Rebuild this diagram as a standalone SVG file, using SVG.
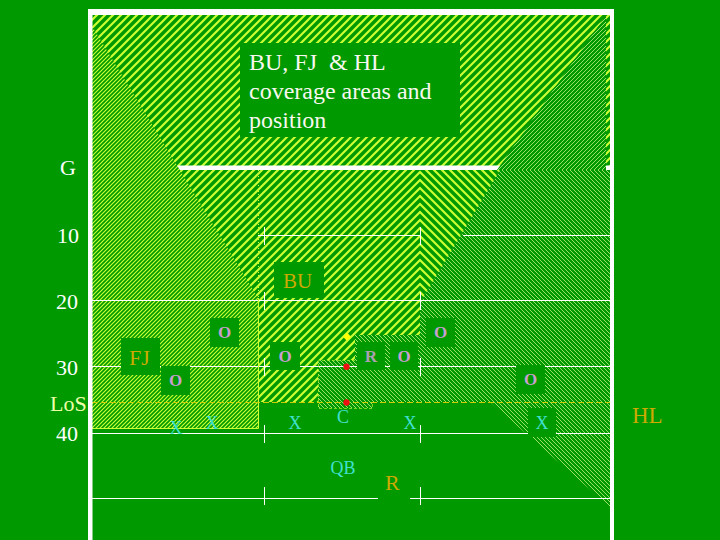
<svg xmlns="http://www.w3.org/2000/svg" width="720" height="540" viewBox="0 0 720 540">
<style>
.t{font-family:"Liberation Serif","Times New Roman",serif}
.yard{font-size:22px;fill:#FFFFFF}
.bx{fill:#009900}
.o{font-size:17px;font-weight:bold;fill:#C8A0D0;text-anchor:middle}
.r{font-size:17px;font-weight:bold;fill:#AAA0B0;text-anchor:middle}
.x{font-size:18px;fill:#40E0D0;text-anchor:middle}
.gold{fill:#CCAA00}
.ln{stroke:#FFFFFF;stroke-width:1;fill:none}
.title{font-size:24px;fill:#F8F8F0;white-space:pre}
</style>
<defs>
<pattern id="wideUp" patternUnits="userSpaceOnUse" width="8" height="8">
<rect width="8" height="8" fill="#009900"/>
<path d="M-4,4 L4,-4 M0,8 L8,0 M4,12 L12,4" stroke="#CCFF33" stroke-width="2.2"/>
</pattern>
<pattern id="wideDn" patternUnits="userSpaceOnUse" width="8" height="8">
<rect width="8" height="8" fill="#009900"/>
<path d="M-4,4 L4,12 M0,0 L8,8 M4,-4 L12,4" stroke="#CCFF33" stroke-width="2.2"/>
</pattern>
<pattern id="fineUp" patternUnits="userSpaceOnUse" width="4" height="4">
<rect width="4" height="4" fill="#009900"/>
<path d="M-1,1 L1,-1 M0,4 L4,0 M3,5 L5,3" stroke="#CCFF33" stroke-width="1.2"/>
</pattern>
<pattern id="lightUp" patternUnits="userSpaceOnUse" width="4" height="4">
<rect width="4" height="4" fill="#009900"/>
<path d="M-1,1 L1,-1 M0,4 L4,0 M3,5 L5,3" stroke="#DDFF99" stroke-width="0.7"/>
</pattern>
<pattern id="lightDn" patternUnits="userSpaceOnUse" width="4" height="4">
<rect width="4" height="4" fill="#009900"/>
<path d="M-1,3 L1,5 M0,0 L4,4 M3,-1 L5,1" stroke="#DDFF99" stroke-width="0.7"/>
</pattern>
</defs>
<rect width="720" height="540" fill="#009900"/>
<g id="areas">
<rect id="endzone" x="92" y="15" width="518" height="152" fill="url(#wideUp)"/>
<polygon id="bu-area" points="150,167 420,167 420,335 355,335 355,360 318,360 318,402 258,402 258,300 150,300" fill="url(#wideUp)"/>
<polygon id="bu-area-right" points="420,167 502,167 420,303" fill="url(#wideDn)"/>
<rect id="goal-line" x="92" y="165.5" width="518" height="4.5" fill="#FFFFFF"/>
<polygon id="fj-area" points="92,26 258,298 258,428 92,428" fill="url(#fineUp)"/>
<polygon id="hl-area-top" points="606,15 606,170 497,170" fill="url(#lightUp)"/>
<polygon id="hl-area" points="500,170 610,170 610,507 490,402 372,402 372,408 318,408 318,360 355,360 355,335 420,335 420,303" fill="url(#lightDn)"/>
</g>
<g id="connectors">
<path class="ln" d="M258,235.5 H420 M463,235.5 H610 M92,300.5 H610 M92,366.5 H610 M92,433.5 H610 M92,498.5 H378 M410,498.5 H610"/>
<path class="ln" d="M264.5,227 V245 M420.5,227 V245 M264.5,292 V310 M420.5,292 V310 M264.5,358 V376 M420.5,358 V376 M264.5,425 V443 M420.5,425 V443 M264.5,487 V505 M420.5,487 V505"/>
<path d="M258.5,170 V298" stroke="#CCFF33" stroke-width="1" stroke-dasharray="1 2" fill="none"/>
<path d="M258.5,298 V428.5 H92" stroke="#CCFF33" stroke-width="1" fill="none"/>
<path d="M355,360.5 H318.5 V408.5 H372.5 V402" stroke="#CCFF33" stroke-width="0.6" stroke-dasharray="3 2" fill="none"/>
<path d="M92,402.5 H610" stroke="#CCCC00" stroke-width="1" stroke-dasharray="6 3" fill="none"/>
</g>
<g id="border" fill="#FFFFFF">
<rect x="88" y="9" width="526" height="6"/>
<rect x="88" y="9" width="4.5" height="531"/>
<rect x="610" y="9" width="4" height="531"/>
</g>
<g id="yard-labels" class="t yard">
<text x="60" y="175">G</text>
<text x="57" y="243">10</text>
<text x="56" y="309">20</text>
<text x="56" y="375">30</text>
<text x="50" y="411" fill="#EEFFAA">LoS</text>
<text x="56" y="441">40</text>
</g>
<g id="title">
<rect class="bx" x="240" y="43" width="220" height="94"/>
<text class="t title" x="249" y="70">BU, FJ  &amp; HL</text>
<text class="t title" x="249" y="99">coverage areas and</text>
<text class="t title" x="249" y="128">position</text>
</g>
<g id="bu"><rect class="bx" x="274" y="262" width="50" height="36"/><text class="t gold" x="283" y="288" font-size="21">BU</text></g>
<g id="fj"><rect class="bx" x="121" y="338" width="39" height="37"/><text class="t gold" x="129" y="365" font-size="22">FJ</text></g>
<g id="hl"><text class="t gold" x="632" y="423" font-size="23">HL</text></g>
<g id="referee"><text class="t gold" x="385" y="490" font-size="22">R</text></g>
<g id="o1"><rect class="bx" x="210" y="318" width="29" height="29"/><text class="t o" x="224.5" y="338">O</text></g>
<g id="o2"><rect class="bx" x="270" y="342" width="30" height="28"/><text class="t o" x="285" y="362">O</text></g>
<g id="o3"><rect class="bx" x="161" y="366" width="29" height="29"/><text class="t o" x="175.5" y="386">O</text></g>
<g id="o4"><rect class="bx" x="426" y="318" width="29" height="29"/><text class="t o" x="440.5" y="338">O</text></g>
<g id="r-box"><rect class="bx" x="357" y="342" width="28" height="28"/><text class="t r" x="371" y="362">R</text></g>
<g id="o5"><rect class="bx" x="390" y="342" width="28" height="28"/><text class="t o" x="404" y="362">O</text></g>
<g id="o6"><rect class="bx" x="516" y="365" width="29" height="29"/><text class="t o" x="530.5" y="385">O</text></g>
<g id="x1"><text class="t x" x="176" y="434">X</text></g>
<g id="x2"><text class="t x" x="212" y="429">X</text></g>
<g id="x3"><text class="t x" x="295" y="429">X</text></g>
<g id="center"><text class="t x" x="343" y="423" font-size="17">C</text></g>
<g id="x4"><text class="t x" x="410" y="429">X</text></g>
<g id="x5"><rect class="bx" x="528" y="408" width="28" height="29"/><text class="t x" x="542" y="429">X</text></g>
<g id="qb"><text class="t x" x="343" y="474" font-size="16">QB</text></g>
<g id="markers">
<circle cx="346.5" cy="366.7" r="3.2" fill="#EE1111"/>
<circle cx="346.5" cy="402.5" r="3.2" fill="#EE1111"/>
<polygon points="347,332.5 351,336.7 347,341 343,336.7" fill="#FFFF00"/>
</g>
</svg>
